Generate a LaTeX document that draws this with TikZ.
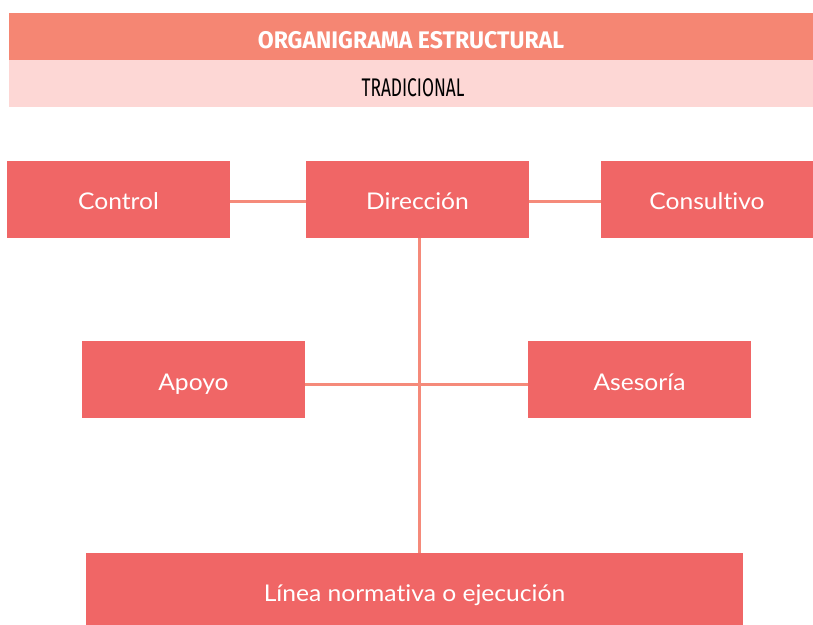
\documentclass[tikz,border=0pt]{standalone}
\usepackage{fontspec}
\setmainfont{Lato}[FakeStretch=1.07, Ligatures={NoCommon,NoRequired}]
\newfontfamily\titlefont[FakeStretch=0.96]{Fira Sans}
\newfontfamily\subfont[FakeStretch=0.68]{Fira Sans}
\definecolor{boxred}{HTML}{F06666}
\definecolor{headdark}{HTML}{F58673}
\definecolor{headlight}{HTML}{FDD7D5}
\definecolor{linkcol}{HTML}{F58A7A}
\begin{document}
\begin{tikzpicture}[x=1pt,y=-1pt,
  unit/.style={rectangle, fill=boxred, inner sep=0pt, minimum height=77pt, minimum width=223pt, text=white, text height=19.5pt, text depth=0pt, font=\fontsize{23}{27}\selectfont},
  band/.style={rectangle, minimum width=804pt, minimum height=47pt, inner sep=0pt, text depth=0pt},
  link/.style={draw=linkcol, line width=3pt}]
\useasboundingbox (0,0) rectangle (813,624);
\fill[white] (0,0) rectangle (813,624);
\node[band, fill=headdark, text=white, text height=23.6pt, font=\titlefont\bfseries\fontsize{24}{28}\selectfont] (title) at (411,36.5) {ORGANIGRAMA ESTRUCTURAL};
\node[band, fill=headlight, text=black, text height=25pt, font=\subfont\fontsize{25.5}{30}\selectfont] (sub) at (411,83.5) {\hspace*{4pt}TRADICIONAL};
\node[unit] (ctrl) at (118.5,199.5) {Control};
\node[unit] (dir) at (417.5,199.5) {Dirección};
\node[unit, minimum width=212pt] (cons) at (707,199.5) {Consultivo};
\node[unit, text height=21pt] (apoyo) at (193.5,379.5) {Apoyo};
\node[unit, text height=21pt] (ases) at (639.5,379.5) {Asesoría};
\node[unit, minimum width=657pt, text height=20pt] (lin) at (414.5,591.5) {Línea normativa o ejecución};
\draw[link] ([yshift=-2pt]ctrl.east) -- ([yshift=-2pt]dir.west);
\draw[link] ([yshift=-2pt]dir.east) -- ([yshift=-2pt]cons.west);
\draw[link] ([xshift=2pt]dir.south) -- ([xshift=2pt]dir.south |- lin.north);
\draw[link] ([yshift=-4.5pt]apoyo.east) -- ([yshift=-4.5pt]ases.west);
\end{tikzpicture}
\end{document}
